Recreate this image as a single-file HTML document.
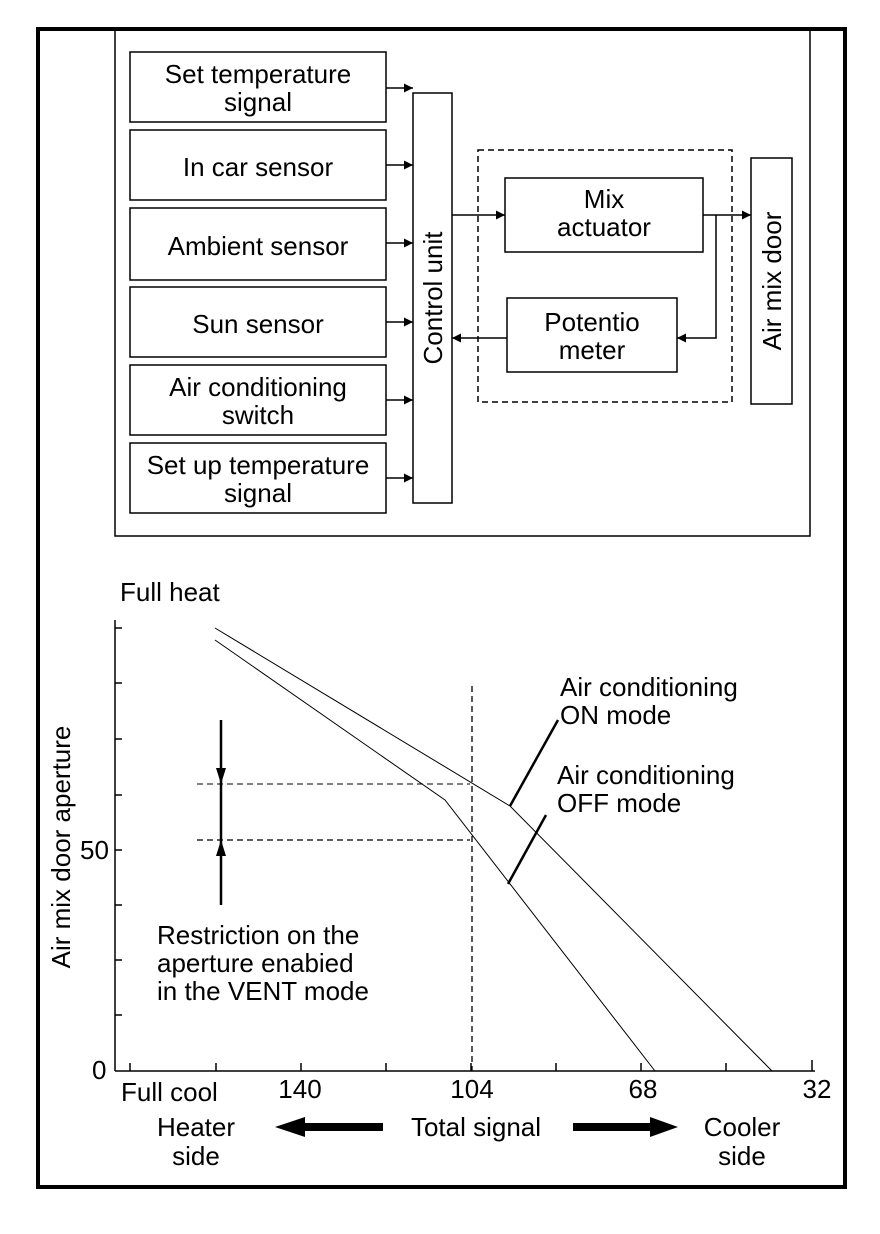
<!DOCTYPE html>
<html><head><meta charset="utf-8"><style>
html,body{margin:0;padding:0;background:#fff}
svg{display:block}
text{font-family:"Liberation Sans",Arial,sans-serif;fill:#000}
</style></head><body>
<svg width="880" height="1234" viewBox="0 0 880 1234" xmlns="http://www.w3.org/2000/svg">
<defs>
<marker id="a" viewBox="0 0 10 10" refX="10" refY="5" markerWidth="13" markerHeight="9" markerUnits="userSpaceOnUse" orient="auto"><path d="M0,0 L10,5 L0,10 z" fill="#000"/></marker>
</defs>
<rect x="38" y="29" width="807" height="1158" fill="none" stroke="#000" stroke-width="4"/>
<rect x="115" y="30" width="695" height="506" fill="none" stroke="#000" stroke-width="1.5"/>
<g fill="none" stroke="#000" stroke-width="1.5">
<rect x="130" y="52" width="256" height="70"/>
<rect x="130" y="130" width="256" height="70"/>
<rect x="130" y="208" width="256" height="72"/>
<rect x="130" y="287" width="256" height="70"/>
<rect x="130" y="365" width="256" height="70"/>
<rect x="130" y="443" width="256" height="70"/>
<rect x="413" y="93" width="39" height="410"/>
<rect x="505" y="178" width="198" height="74"/>
<rect x="507" y="298" width="170" height="74"/>
<rect x="751" y="158" width="41" height="246"/>
<rect x="478" y="150" width="254" height="252" stroke-dasharray="6,4"/>
</g>
<g stroke="#000" stroke-width="1.5" marker-end="url(#a)">
<line x1="386" y1="88" x2="413" y2="88"/>
<line x1="386" y1="165" x2="413" y2="165"/>
<line x1="386" y1="243" x2="413" y2="243"/>
<line x1="386" y1="322" x2="413" y2="322"/>
<line x1="386" y1="400" x2="413" y2="400"/>
<line x1="386" y1="478" x2="413" y2="478"/>
<line x1="452" y1="215" x2="505" y2="215"/>
<line x1="703" y1="215" x2="751" y2="215"/>
<polyline points="716,215 716,338 677,338" fill="none"/>
<line x1="507" y1="338" x2="452" y2="338"/>
</g>
<g font-size="26" text-anchor="middle">
<text x="258" y="83">Set temperature</text><text x="258" y="111">signal</text>
<text x="258" y="176">In car sensor</text>
<text x="258" y="255">Ambient sensor</text>
<text x="258" y="333">Sun sensor</text>
<text x="258" y="396">Air conditioning</text><text x="258" y="424">switch</text>
<text x="258" y="474">Set up temperature</text><text x="258" y="502">signal</text>
<text x="604" y="208">Mix</text><text x="604" y="236">actuator</text>
<text x="592" y="331">Potentio</text><text x="592" y="359">meter</text>
<text transform="translate(442,298) rotate(-90)">Control unit</text>
<text transform="translate(781,281) rotate(-90)">Air mix door</text>
</g>
<g stroke="#000" stroke-width="1.5" fill="none">
<line x1="115" y1="620" x2="115" y2="1071"/>
<line x1="115" y1="1071" x2="815" y2="1071"/>
<line x1="115" y1="628" x2="122" y2="628"/>
<line x1="115" y1="683" x2="122" y2="683"/>
<line x1="115" y1="739" x2="122" y2="739"/>
<line x1="115" y1="795" x2="122" y2="795"/>
<line x1="115" y1="850" x2="122" y2="850"/>
<line x1="115" y1="905" x2="122" y2="905"/>
<line x1="115" y1="960" x2="122" y2="960"/>
<line x1="115" y1="1015" x2="122" y2="1015"/>
<line x1="130" y1="1071" x2="130" y2="1063"/>
<line x1="216" y1="1071" x2="216" y2="1063"/>
<line x1="301" y1="1071" x2="301" y2="1063"/>
<line x1="386" y1="1071" x2="386" y2="1063"/>
<line x1="471" y1="1071" x2="471" y2="1063"/>
<line x1="556" y1="1071" x2="556" y2="1063"/>
<line x1="641" y1="1071" x2="641" y2="1063"/>
<line x1="726" y1="1071" x2="726" y2="1063"/>
<line x1="812" y1="1071" x2="812" y2="1060"/>
</g>
<g stroke="#000" stroke-width="1" fill="none">
<polyline points="215,628 510,806 772,1071"/>
<polyline points="215,640 445,800 655,1071"/>
<line x1="472" y1="686" x2="472" y2="1071" stroke-dasharray="6,4" stroke-width="1.3"/>
<line x1="197" y1="784" x2="470" y2="784" stroke-dasharray="6,4"/>
<line x1="197" y1="840" x2="470" y2="840" stroke-dasharray="6,4" stroke-width="1.3"/>
</g>
<g stroke="#000" stroke-width="2.5">
<line x1="510" y1="806" x2="558" y2="720"/>
<line x1="508" y1="884" x2="546" y2="815"/>
<line x1="221" y1="720" x2="221" y2="905"/>
</g>
<path d="M216,768 L226,768 L221,784 z M216,856 L226,856 L221,840 z" fill="#000"/>
<path d="M383,1123 L305,1123 L305,1117 L275,1127 L305,1137 L305,1131 L383,1131 z" fill="#000"/>
<path d="M573,1123 L650,1123 L650,1117 L678,1127 L650,1137 L650,1131 L573,1131 z" fill="#000"/>
<g font-size="26">
<text x="120" y="601">Full heat</text>
<text x="560" y="696">Air conditioning</text><text x="560" y="724">ON mode</text>
<text x="557" y="784">Air conditioning</text><text x="557" y="812">OFF mode</text>
<text x="157" y="944">Restriction on the</text>
<text x="157" y="972">aperture enabied</text>
<text x="157" y="1000">in the VENT mode</text>
<text x="80" y="859">50</text>
<text x="92" y="1079">0</text>
<text x="121" y="1101">Full cool</text>
<text x="300" y="1098" text-anchor="middle">140</text>
<text x="472" y="1098" text-anchor="middle">104</text>
<text x="643" y="1098" text-anchor="middle">68</text>
<text x="817" y="1098" text-anchor="middle">32</text>
<text x="196" y="1136" text-anchor="middle">Heater</text>
<text x="196" y="1165" text-anchor="middle">side</text>
<text x="476" y="1136" text-anchor="middle">Total signal</text>
<text x="742" y="1136" text-anchor="middle">Cooler</text>
<text x="742" y="1165" text-anchor="middle">side</text>
<text transform="translate(70,847) rotate(-90)" text-anchor="middle">Air mix door aperture</text>
</g>
</svg>
</body></html>
